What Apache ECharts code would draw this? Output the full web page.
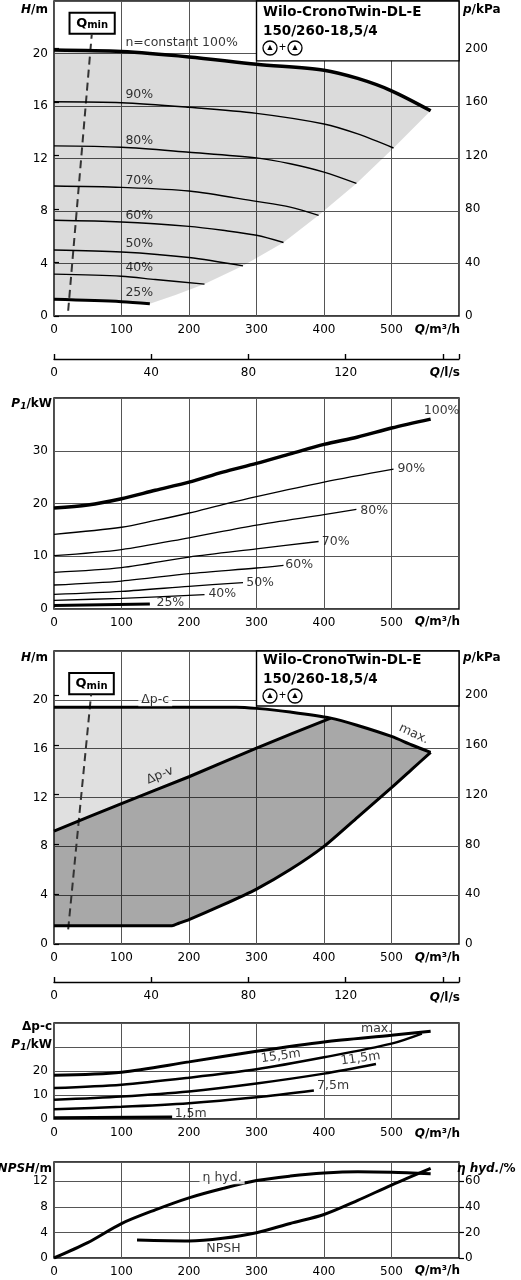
<!DOCTYPE html>
<html>
<head>
<meta charset="utf-8">
<script src="https://cdn.jsdelivr.net/npm/echarts@6/dist/echarts.min.js"></script>
<style>
  html, body { margin: 0; padding: 0; background: #fff; }
  #chart { width: 521px; height: 1280px; }
</style>
</head>
<body>
<div id="chart"></div>
<script>
// ---- panel 1: H over Q, speed curves (Q m3/h, H m)
const speed100 = [[0, 20.27], [100, 20.15], [200, 19.74], [300, 19.18], [400, 18.73], [450, 18.1], [500, 17.16], [558, 15.64]];
const speed90 = [[0, 16.32], [100, 16.25], [200, 15.9], [300, 15.44], [400, 14.63], [450, 13.87], [503, 12.8]];
const speed80 = [[0, 12.96], [100, 12.86], [200, 12.48], [300, 12.05], [350, 11.6], [400, 10.96], [448, 10.1]];
const speed70 = [[0, 9.9], [100, 9.8], [200, 9.52], [300, 8.73], [350, 8.3], [392, 7.67]];
const speed60 = [[0, 7.29], [100, 7.16], [200, 6.83], [250, 6.53], [300, 6.15], [340, 5.6]];
const speed50 = [[0, 5.03], [100, 4.88], [200, 4.46], [280, 3.82]];
const speed40 = [[0, 3.19], [100, 3.03], [150, 2.78], [223, 2.43]];
const speed25 = [[0, 1.27], [100, 1.09], [142, 0.93]];
const speedEdge = [[142, 0.93], [180, 1.6], [223, 2.43], [280, 3.82], [340, 5.6], [392, 7.67], [448, 10.1], [503, 12.8], [558, 15.64]];
const qmin1 = [[21, 0.4], [56, 21.5]];
const speedLabels = [
  [105, 20.8, "n=constant 100%"], [105, 16.85, "90%"], [105, 13.36, "80%"], [105, 10.3, "70%"],
  [105, 7.67, "60%"], [105, 5.49, "50%"], [105, 3.64, "40%"], [105, 1.77, "25%"]
];

// ---- panel 2: P1 over Q (kW)
const power100 = [[0, 19.13], [50, 19.7], [100, 20.9], [150, 22.5], [200, 24.05], [250, 25.95], [300, 27.6], [350, 29.4], [400, 31.2], [450, 32.6], [500, 34.3], [558, 36.0]];
const power90 = [[0, 14.15], [100, 15.5], [150, 16.8], [200, 18.2], [250, 19.8], [300, 21.3], [400, 24.05], [503, 26.5]];
const power80 = [[0, 10.1], [100, 11.25], [200, 13.5], [300, 15.9], [400, 17.9], [448, 18.9]];
const power70 = [[0, 6.95], [100, 7.84], [200, 9.85], [300, 11.4], [392, 12.8]];
const power60 = [[0, 4.55], [100, 5.3], [200, 6.7], [300, 7.77], [340, 8.28]];
const power50 = [[0, 2.78], [100, 3.35], [200, 4.3], [280, 5.0]];
const power40 = [[0, 1.65], [100, 2.03], [223, 2.72]];
const power25 = [[0, 0.64], [142, 0.95]];
const powerLabels = [
  [547, 37.5, "100%"], [508, 26.5, "90%"], [453, 18.7, "80%"], [396, 12.7, "70%"],
  [342, 8.4, "60%"], [284, 4.9, "50%"], [228, 2.8, "40%"], [151, 1.2, "25%"]
];

// ---- panel 3: control modes (H m)
const dpcTop = [[0, 19.4], [270, 19.4], [300, 19.3], [350, 19.0], [410, 18.5], [450, 17.9], [500, 17.0], [530, 16.3], [558, 15.7]];
const dpvLine = [[0, 9.25], [100, 11.5], [200, 13.7], [300, 16.05], [410, 18.5]];
const minEdge = [[558, 15.7], [530, 14.3], [500, 12.8], [450, 10.4], [400, 8.0], [350, 6.1], [300, 4.5], [250, 3.2], [200, 2.0], [185, 1.7], [175, 1.5], [0, 1.5]];
const qmin3 = [[21, 1.2], [55, 20.45]];
const modeLabels = [
  [157, 13.8, "Δp-v", 22, "center"], [533, 17.2, "max.", -25, "center"]
];

// ---- panel 4: P1 for Δp-c setpoints (kW)
const pcMax = [[0, 18.2], [100, 19.5], [200, 23.8], [300, 28.2], [400, 32.1], [500, 34.9], [558, 36.6]];
const pc155 = [[0, 12.9], [100, 14.3], [200, 17.2], [300, 20.7], [400, 25.7], [500, 31.4], [545, 35.6]];
const pc115 = [[0, 8.0], [100, 9.4], [200, 11.5], [300, 14.8], [400, 18.9], [477, 22.9]];
const pc75 = [[0, 4.1], [100, 5.1], [200, 6.6], [300, 9.1], [385, 11.9]];
const pc15 = [[0, 0.5], [175, 0.85]];
const pcLabels = [
  [454, 37.4, "max.", 0], [306, 25.0, "15,5m", 8], [424, 24.0, "11,5m", 8], [389, 13.9, "7,5m", 0], [178, 2.0, "1,5m", 0]
];

// ---- panel 5: NPSH (m) and hydraulic efficiency (%)
const npsh = [[123, 2.8], [200, 2.66], [250, 3.07], [300, 3.94], [350, 5.4], [400, 6.8], [450, 9.0], [500, 11.4], [558, 14.0]];
const etaHyd = [[0, 0], [50, 12], [100, 26.9], [150, 37.6], [200, 47], [250, 54.3], [300, 60.5], [350, 64], [400, 66.4], [450, 67.4], [500, 67], [558, 65.8]];

const FONT = "DejaVu Sans";
const chart = echarts.init(document.getElementById("chart"), null, { renderer: "canvas" });

const grids = [
  { left: 54, right: 62, top: 1, height: 315 },
  { left: 54, right: 62, top: 398, height: 211 },
  { left: 54, right: 62, top: 651, height: 293 },
  { left: 54, right: 62, top: 1023, height: 96 },
  { left: 54, right: 62, top: 1162, height: 96 }
].map((g) => ({ ...g, show: true, borderColor: "#000", borderWidth: 1.4, backgroundColor: "transparent" }));

const split = { show: true, lineStyle: { color: "#555", width: 1 } };
const tickText = { color: "#000", fontFamily: FONT, fontSize: 12 };

function qAxis(grid) {
  return {
    gridIndex: grid, type: "value", min: 0, max: 600, interval: 100,
    axisLine: { show: false }, axisTick: { show: false }, splitLine: split,
    axisLabel: { ...tickText, margin: 8, showMaxLabel: false }
  };
}
function lsAxis(grid, offset) {
  return {
    gridIndex: grid, type: "value", position: "bottom", offset, min: 0, max: 600 / 3.6, interval: 40,
    axisLine: { show: true, onZero: false, lineStyle: { color: "#000", width: 1.4 } },
    axisTick: { show: true, inside: true, length: 5, lineStyle: { color: "#000", width: 1.4 } },
    splitLine: { show: false },
    axisLabel: { ...tickText, margin: 8, formatter: (v) => (v >= 160 ? "" : v) }
  };
}
function leftAxis(grid, max, interval, hide) {
  return {
    gridIndex: grid, type: "value", min: 0, max, interval,
    axisLine: { show: false }, axisTick: { show: false }, splitLine: split,
    axisLabel: { ...tickText, margin: 6, showMaxLabel: false, formatter: (v) => (hide && hide.includes(v) ? "" : v) }
  };
}
function rightAxis(grid, max, interval) {
  return {
    gridIndex: grid, type: "value", position: "right", min: 0, max, interval,
    axisLine: { show: false }, splitLine: { show: false },
    axisTick: { show: true, length: 5, lineStyle: { color: "#000", width: 1.2 } },
    axisLabel: { ...tickText, margin: 6, showMaxLabel: false }
  };
}

const xAxis = [qAxis(0), lsAxis(0, 43), qAxis(1), qAxis(2), lsAxis(2, 38), qAxis(3), qAxis(4)];
const yAxis = [
  leftAxis(0, 24, 4), rightAxis(0, 24 * 9.81, 40),
  leftAxis(1, 40, 10),
  leftAxis(2, 24, 4), rightAxis(2, 24 * 9.81, 40),
  leftAxis(3, 40, 10, [30]),
  leftAxis(4, 15, 4), rightAxis(4, 75, 20)
];

function curve(x, y, data, width, extra) {
  return {
    type: "line", xAxisIndex: x, yAxisIndex: y, data, smooth: 0.3,
    showSymbol: false, silent: true, lineStyle: { color: "#000", width }, z: 5, ...extra
  };
}
function area(x, y, points, fill) {
  return {
    type: "custom", xAxisIndex: x, yAxisIndex: y, data: [0], silent: true, z: 1,
    renderItem: (params, api) => ({
      type: "polygon",
      shape: { points: points.map((p) => api.coord(p)) },
      style: { fill: fill }
    })
  };
}
function texts(x, y, items, defaults) {
  return {
    type: "scatter", xAxisIndex: x, yAxisIndex: y, symbolSize: 1, silent: true, z: 8,
    itemStyle: { color: "rgba(0,0,0,0)" },
    data: items.map((it) => ({
      value: [it[0], it[1]],
      label: {
        show: true, formatter: it[2], rotate: it[3] || 0,
        position: it[4] === "center" ? "inside" : "right", distance: 0,
        color: "#000", fontFamily: FONT, fontSize: 12.5,
        ...defaults
      }
    }))
  };
}
function box(x, y, from, to, label) {
  return {
    type: "line", xAxisIndex: x, yAxisIndex: y, data: [], silent: true, z: 6,
    markArea: {
      silent: true,
      itemStyle: { color: "#fff", borderColor: "#000", borderWidth: label ? 2 : 1.4 },
      label: label ? {
        show: true, position: "inside", formatter: "{q|Q}{m|min}",
        rich: { q: { fontFamily: FONT, fontSize: 13, fontWeight: "bold", color: "#000" },
                m: { fontFamily: FONT, fontSize: 10, fontWeight: "bold", color: "#000", padding: [5, 0, 0, 0] } }
      } : { show: false },
      data: [[{ coord: from }, { coord: to }]]
    }
  };
}
function dashed(x, y, data) {
  return curve(x, y, data, 2, { smooth: false, lineStyle: { color: "#333", width: 2, type: [8, 5] }, z: 4 });
}

const reverse = (a) => [...a].reverse();
const area1 = [...speed100, ...reverse(speedEdge).slice(1), ...reverse(speed25)];
const lightArea3 = [...dpcTop.slice(0, 5), ...reverse(dpvLine).slice(1)];
const darkArea3 = [...dpvLine, ...dpcTop.slice(5), ...minEdge.slice(1), [0, 9.25]];

const series = [
  area(0, 0, area1, "rgba(0,0,0,0.14)"),
  box(0, 0, [300, 19.44], [600, 24]),
  box(0, 0, [23, 21.5], [90, 23.1], true),
  dashed(0, 0, qmin1),
  curve(0, 0, speed100, 3.5), curve(0, 0, speed90, 1.4), curve(0, 0, speed80, 1.4), curve(0, 0, speed70, 1.4),
  curve(0, 0, speed60, 1.4), curve(0, 0, speed50, 1.4), curve(0, 0, speed40, 1.4), curve(0, 0, speed25, 3),
  texts(0, 0, speedLabels),

  curve(2, 2, power100, 3.5), curve(2, 2, power90, 1.3), curve(2, 2, power80, 1.3), curve(2, 2, power70, 1.3),
  curve(2, 2, power60, 1.3), curve(2, 2, power50, 1.3), curve(2, 2, power40, 1.3), curve(2, 2, power25, 3),
  texts(2, 2, powerLabels),

  area(3, 3, lightArea3, "rgba(0,0,0,0.12)"),
  area(3, 3, darkArea3, "rgba(0,0,0,0.34)"),
  box(3, 3, [300, 19.5], [600, 24]),
  box(3, 3, [22.5, 20.45], [88.6, 22.2], true),
  dashed(3, 3, qmin3),
  curve(3, 3, dpcTop, 3, { smooth: 0.3 }), curve(3, 3, dpvLine, 3, { smooth: 0.2 }), curve(3, 3, minEdge, 3, { smooth: 0.2 }),
  texts(3, 3, modeLabels),
  texts(3, 3, [[150, 20, "Δp-c", 0, "center"]], { backgroundColor: "#fff", padding: [0, 3] }),

  curve(5, 5, pcMax, 3), curve(5, 5, pc155, 2.5), curve(5, 5, pc115, 2.5), curve(5, 5, pc75, 2.5), curve(5, 5, pc15, 3),
  texts(5, 5, pcLabels),

  curve(6, 6, npsh, 3), curve(6, 7, etaHyd, 3),
  texts(6, 6, [[251, 1.4, "NPSH", 0, "center"]]),
  texts(6, 7, [[249, 62.6, "η hyd.", 0, "center"]], { backgroundColor: "#fff", padding: [0, 3] })
];

const bold = { fontFamily: FONT, fontSize: 12, fontWeight: "bold", fill: "#000" };
const it = { fontFamily: FONT, fontSize: 12, fontWeight: "bold", fontStyle: "italic" };
const sub = { fontFamily: FONT, fontSize: 9, fontWeight: "bold", fontStyle: "italic", padding: [5, 0, 0, 0] };
function label(x, y, text, align) {
  return { type: "text", x, y, z: 20, style: { ...bold, text, align, verticalAlign: "middle", rich: { i: it, s: sub } } };
}
const icons = { c: { fontSize: 9, width: 14, height: 14, lineHeight: 14, align: "center", borderColor: "#000", borderWidth: 1.3, borderRadius: 8 }, p: { fontSize: 12, padding: [0, 2] } };
function title(y) {
  const t = { fontFamily: FONT, fontSize: 13.5, fontWeight: "bold", fill: "#000" };
  return [
    { type: "text", x: 263, y, z: 20, style: { ...t, text: "Wilo-CronoTwin-DL-E", verticalAlign: "middle" } },
    { type: "text", x: 263, y: y + 19, z: 20, style: { ...t, text: "150/260-18,5/4", verticalAlign: "middle" } },
    { type: "text", x: 263, y: y + 36, z: 20, style: { fontFamily: FONT, fill: "#000", text: "{c|▲}{p|+}{c|▲}", verticalAlign: "middle", rich: icons } }
  ];
}

const graphic = [
  ...title(12), ...title(660),
  label(48, 10, "{i|H}/m", "right"), label(463, 10, "{i|p}/kPa", "left"),
  label(52, 404, "{i|P}{s|1}/kW", "right"),
  label(48, 658, "{i|H}/m", "right"), label(463, 658, "{i|p}/kPa", "left"),
  label(52, 1027, "Δp-c", "right"), label(52, 1045, "{i|P}{s|1}/kW", "right"),
  label(52, 1169, "{i|NPSH}/m", "right"), label(457, 1169, "{i|η hyd.}/%", "left"),
  ...[330, 622, 958, 1134, 1271].map((y) => label(460, y, "{i|Q}/m³/h", "right")),
  ...[373, 998].map((y) => label(460, y, "{i|Q}/l/s", "right"))
];

chart.setOption({
  animation: false,
  backgroundColor: "#fff",
  grid: grids,
  xAxis,
  yAxis,
  series,
  graphic
});
</script>
</body>
</html>
